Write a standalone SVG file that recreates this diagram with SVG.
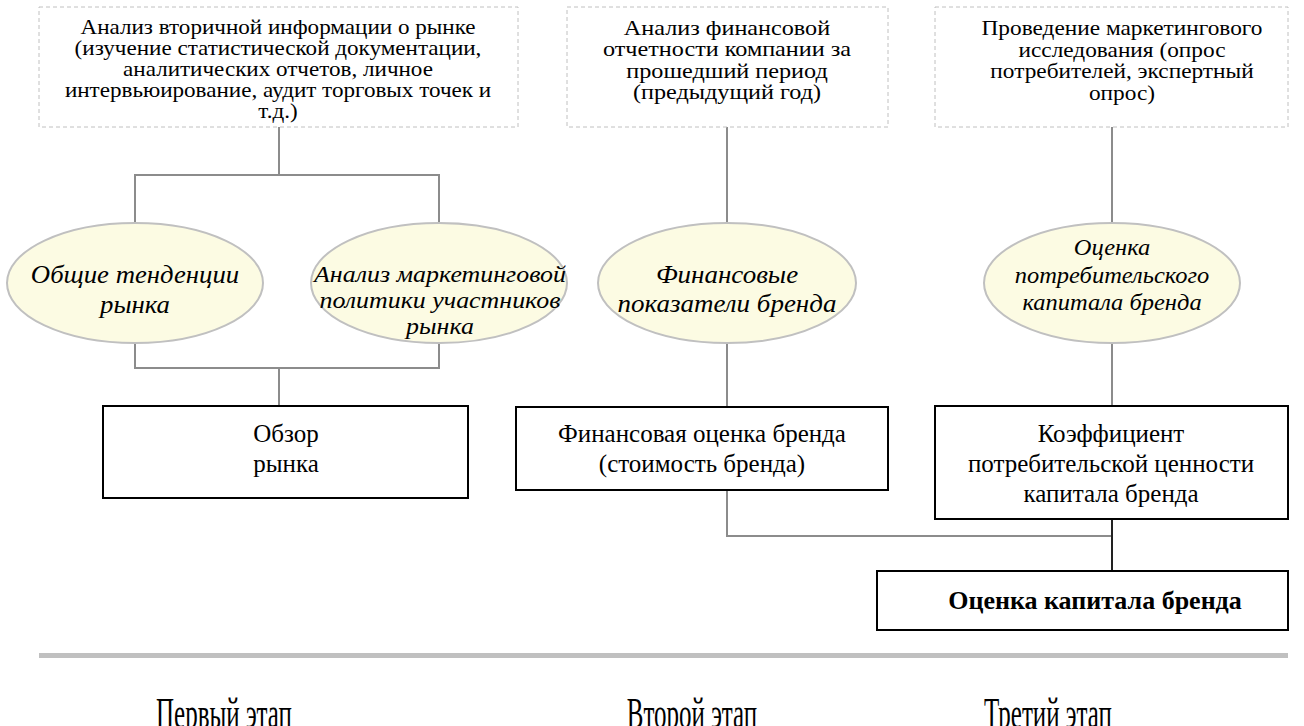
<svg xmlns="http://www.w3.org/2000/svg" width="1304" height="726" viewBox="0 0 1304 726">
<style>
  text { font-family: "Liberation Serif", "DejaVu Serif", serif; fill: #000; text-anchor: middle; }
  .src { fill: #fff; stroke: #c0c0c0; stroke-width: 1; stroke-dasharray: 4 3; }
  .srct { font-size: 22px; }
  .ell { fill: #fcfbe3; stroke: #c0c0c0; stroke-width: 2; }
  .ellt { font-size: 25px; font-style: italic; }
  .box { fill: #fff; stroke: #000; stroke-width: 2; }
  .boxt { font-size: 25px; }
  .res { font-size: 26px; font-weight: bold; }
  .conn { fill: none; stroke: #8c8c8c; stroke-width: 2; }
  .connd { fill: none; stroke: #222; stroke-width: 2; }
  .stage { font-size: 25px; }
</style>

<g id="connectors">
  <path class="conn" d="M279 127 V175 M135 223 V175 H439 V223"/>
  <path class="conn" d="M135 343 V368 H439 V343 M279 368 V406"/>
  <path class="conn" d="M727 127 V223 M727 343 V407"/>
  <path class="conn" d="M1112 127 V223 M1112 343 V406"/>
  <path class="conn" d="M727 490 V536 H1112"/>
  <path class="connd" d="M1112 519 V571"/>
</g>

<g id="src1">
  <rect class="src" x="39" y="7" width="479" height="120"/>
  <g transform="translate(278 0) scale(1.05 1)">
    <text class="srct" x="0" y="34">Анализ вторичной информации о рынке</text>
    <text class="srct" x="0" y="55">(изучение статистической документации,</text>
    <text class="srct" x="0" y="76">аналитических отчетов, личное</text>
    <text class="srct" x="0" y="97">интервьюирование, аудит торговых точек и</text>
    <text class="srct" x="0" y="118">т.д.)</text>
  </g>
</g>
<g id="src2">
  <rect class="src" x="567" y="7" width="321" height="120"/>
  <g transform="translate(727 0) scale(1.1 1)">
    <text class="srct" x="0" y="35">Анализ финансовой</text>
    <text class="srct" x="0" y="56">отчетности компании за</text>
    <text class="srct" x="0" y="78">прошедший период</text>
    <text class="srct" x="0" y="99">(предыдущий год)</text>
  </g>
</g>
<g id="src3">
  <rect class="src" x="935" y="7" width="353" height="120"/>
  <g transform="translate(1122 0) scale(1.06 1)">
    <text class="srct" x="0" y="35">Проведение маркетингового</text>
    <text class="srct" x="0" y="57">исследования (опрос</text>
    <text class="srct" x="0" y="78">потребителей, экспертный</text>
    <text class="srct" x="0" y="100">опрос)</text>
  </g>
</g>

<g id="ell1">
  <ellipse class="ell" cx="135" cy="283" rx="128" ry="60"/>
  <g transform="translate(135 0) scale(1.07 1)">
    <text class="ellt" x="0" y="283">Общие тенденции</text>
    <text class="ellt" x="0" y="313">рынка</text>
  </g>
</g>
<g id="ell2">
  <ellipse class="ell" cx="439" cy="283" rx="128" ry="60"/>
  <g transform="translate(440 0) scale(1.08 1)">
    <text class="ellt" x="0" y="282" style="font-size:24px">Анализ маркетинговой</text>
    <text class="ellt" x="0" y="308" style="font-size:24px">политики участников</text>
    <text class="ellt" x="0" y="334" style="font-size:24px">рынка</text>
  </g>
</g>
<g id="ell3">
  <ellipse class="ell" cx="727" cy="283" rx="129" ry="60"/>
  <g transform="translate(727 0) scale(1.08 1)">
    <text class="ellt" x="0" y="283">Финансовые</text>
    <text class="ellt" x="0" y="312">показатели бренда</text>
  </g>
</g>
<g id="ell4">
  <ellipse class="ell" cx="1112" cy="283" rx="128" ry="60"/>
  <g transform="translate(1112 0) scale(1.02 1)">
    <text class="ellt" x="0" y="255" style="font-size:24px">Оценка</text>
    <text class="ellt" x="0" y="283" style="font-size:24px">потребительского</text>
    <text class="ellt" x="0" y="310" style="font-size:24px">капитала бренда</text>
  </g>
</g>

<g id="box1">
  <rect class="box" x="103" y="406" width="365" height="92"/>
  <text class="boxt" x="286" y="442">Обзор</text>
  <text class="boxt" x="286" y="472">рынка</text>
</g>
<g id="box2">
  <rect class="box" x="516" y="407" width="372" height="83"/>
  <text class="boxt" x="702" y="442">Финансовая оценка бренда</text>
  <text class="boxt" x="702" y="472">(стоимость бренда)</text>
</g>
<g id="box3">
  <rect class="box" x="935" y="406" width="353" height="113"/>
  <text class="boxt" x="1111" y="442">Коэффициент</text>
  <text class="boxt" x="1111" y="472">потребительской ценности</text>
  <text class="boxt" x="1111" y="502">капитала бренда</text>
</g>
<g id="result">
  <rect class="box" x="877" y="571" width="411" height="59"/>
  <text class="res" x="1095" y="609">Оценка капитала бренда</text>
</g>

<g id="timeline">
  <rect x="39" y="653" width="1249" height="5" fill="#c0c0c0"/>
  <text class="stage" transform="translate(224 698) scale(1 1.8)" x="0" y="16.5">Первый этап</text>
  <text class="stage" transform="translate(692 698) scale(1 1.8)" x="0" y="16.5">Второй этап</text>
  <text class="stage" transform="translate(1048 698) scale(1 1.8)" x="0" y="16.5">Третий этап</text>
</g>
</svg>
